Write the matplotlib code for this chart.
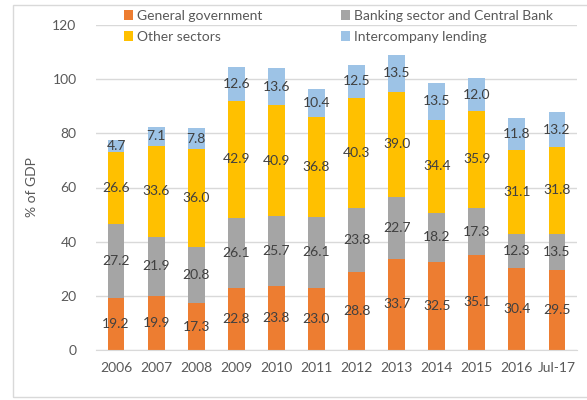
import numpy as np
import matplotlib
matplotlib.use("Agg")
import matplotlib.pyplot as plt
from matplotlib.patches import Rectangle

# datos
years = ["2006", "2007", "2008", "2009", "2010", "2011", "2012", "2013",
         "2014", "2015", "2016", "Jul-17"]
general_gov = [19.2, 19.9, 17.3, 22.8, 23.8, 23.0, 28.8, 33.7, 32.5, 35.1, 30.4, 29.5]
banking = [27.2, 21.9, 20.8, 26.1, 25.7, 26.1, 23.8, 22.7, 18.2, 17.3, 12.3, 13.5]
other_sectors = [26.6, 33.6, 36.0, 42.9, 40.9, 36.8, 40.3, 39.0, 34.4, 35.9, 31.1, 31.8]
intercompany = [4.7, 7.1, 7.8, 12.6, 13.6, 10.4, 12.5, 13.5, 13.5, 12.0, 11.8, 13.2]

series = [
    ("General government", general_gov, "#ED7D31"),
    ("Banking sector and Central Bank", banking, "#A5A5A5"),
    ("Other sectors", other_sectors, "#FFC000"),
    ("Intercompany lending", intercompany, "#9DC3E6"),
]

plt.rcParams["font.family"] = ["Lato", "DejaVu Sans"]

fig = plt.figure(figsize=(5.87, 4.0), dpi=100)
ax = fig.add_axes([96 / 587, 50 / 400, 481 / 587, 325 / 400])

# marco exterior
fig.patches.append(Rectangle((13 / 587, 3 / 400), 1.0, 392 / 400, transform=fig.transFigure,
                             fill=False, edgecolor="#D9D9D9", linewidth=1.0))

x = np.arange(len(years))
bottom = np.zeros(len(years))
handles = []
for name, vals, color in series:
    vals = np.array(vals)
    bars = ax.bar(x, vals, width=0.42, bottom=bottom, color=color, label=name, zorder=2)
    handles.append(bars)
    for xi, b, v in zip(x, bottom, vals):
        ax.text(xi, b + v / 2, f"{v:.1f}", ha="center", va="center",
                fontsize=10, color="#404040", zorder=3)
    bottom += vals

ax.set_xlim(-0.5, len(years) - 0.5)
ax.set_ylim(0, 120)
ax.set_yticks(range(0, 121, 20))
ax.set_xticks(x)
ax.set_xticklabels(years)
ax.tick_params(axis="both", length=0, colors="#595959", labelsize=10)
ax.tick_params(axis="y", pad=14)
ax.tick_params(axis="x", pad=9)
ax.yaxis.grid(True, color="#D9D9D9", linewidth=1.0, zorder=0)
ax.set_axisbelow(True)
for s in ["top", "right", "left"]:
    ax.spines[s].set_visible(False)
ax.spines["bottom"].set_color("#D9D9D9")
ax.set_ylabel("% of GDP", color="#595959", fontsize=10, labelpad=10)

# leyenda por filas (matplotlib rellena por columnas)
order = [0, 2, 1, 3]
fig.legend(handles=[handles[i] for i in order], labels=[series[i][0] for i in order], ncol=2,
           loc="upper left", bbox_to_anchor=(118 / 587, 1 - 4 / 400),
           frameon=False, fontsize=10, labelcolor="#595959",
           handlelength=0.7, handleheight=0.7, handletextpad=0.3,
           columnspacing=5.6, labelspacing=0.65, borderaxespad=0)

fig.savefig("out.png", dpi=100)
